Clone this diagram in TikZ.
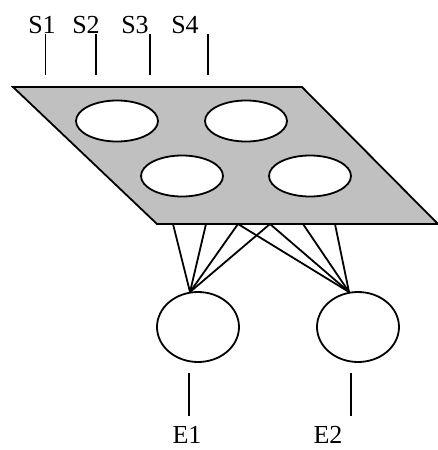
\documentclass[tikz,border=0pt]{standalone}
\usepackage{fontspec}
\setmainfont{Liberation Serif}
\usetikzlibrary{shapes.geometric}
\definecolor{plategray}{HTML}{C0C0C0}
\begin{document}
\begin{tikzpicture}[x=1pt,y=-1pt,line width=1.8pt,
  hole/.style={ellipse,draw,fill=white,minimum width=82pt,minimum height=41pt,inner sep=0pt},
  outnode/.style={ellipse,draw,fill=white,minimum width=82pt,minimum height=70pt,inner sep=0pt},
  lbl/.style={anchor=base,inner sep=0pt,font=\fontsize{26}{30}\selectfont}]
\useasboundingbox (0,0) rectangle (438,450);
% plate
\coordinate (p1) at (13,87);
\coordinate (p2) at (302,87);
\coordinate (p3) at (438,224);
\coordinate (p4) at (157,224);
\draw[fill=plategray,line join=miter] (p1) -- (p2) -- (p3) -- (p4) -- cycle;
\node[hole] (h1) at (117,121) {};
\node[hole] (h2) at (246,121) {};
\node[hole] (h3) at (182,176) {};
\node[hole] (h4) at (310,176) {};
% sensor labels and stubs
\node[lbl] (s1) at (42,33) {S1};
\node[lbl] (s2) at (86,33) {S2};
\node[lbl] (s3) at (135,33) {S3};
\node[lbl] (s4) at (185,33) {S4};
\coordinate (s1a) at (45.5,34); \coordinate (s1b) at (45.5,75);
\coordinate (s2a) at (96,34);   \coordinate (s2b) at (96,75);
\coordinate (s3a) at (150,34);  \coordinate (s3b) at (150,75);
\coordinate (s4a) at (208,34);  \coordinate (s4b) at (208,75);
\draw (s1a) -- (s1b);
\draw (s2a) -- (s2b);
\draw (s3a) -- (s3b);
\draw (s4a) -- (s4b);
% output units
\node[outnode] (e1) at (198,327) {};
\node[outnode] (e2) at (358,327) {};
\coordinate (a1) at (190,292);
\coordinate (a2) at (349,292);
\coordinate (t1) at (173,224);
\coordinate (t2) at (206,224);
\coordinate (t3) at (238,224);
\coordinate (t4) at (270,224);
\coordinate (t5) at (303,224);
\coordinate (t6) at (335,224);
\foreach \t in {t1,t2,t3,t4} \draw (\t) -- (a1);
\foreach \t in {t3,t4,t5,t6} \draw (\t) -- (a2);
% output stubs and labels
\coordinate (e1a) at (189,373); \coordinate (e1b) at (189,416);
\coordinate (e2a) at (351,373); \coordinate (e2b) at (351,416);
\draw (e1a) -- (e1b);
\draw (e2a) -- (e2b);
\node[lbl] (l1) at (187,443) {E1};
\node[lbl] (l2) at (328,443) {E2};
\end{tikzpicture}
\end{document}
